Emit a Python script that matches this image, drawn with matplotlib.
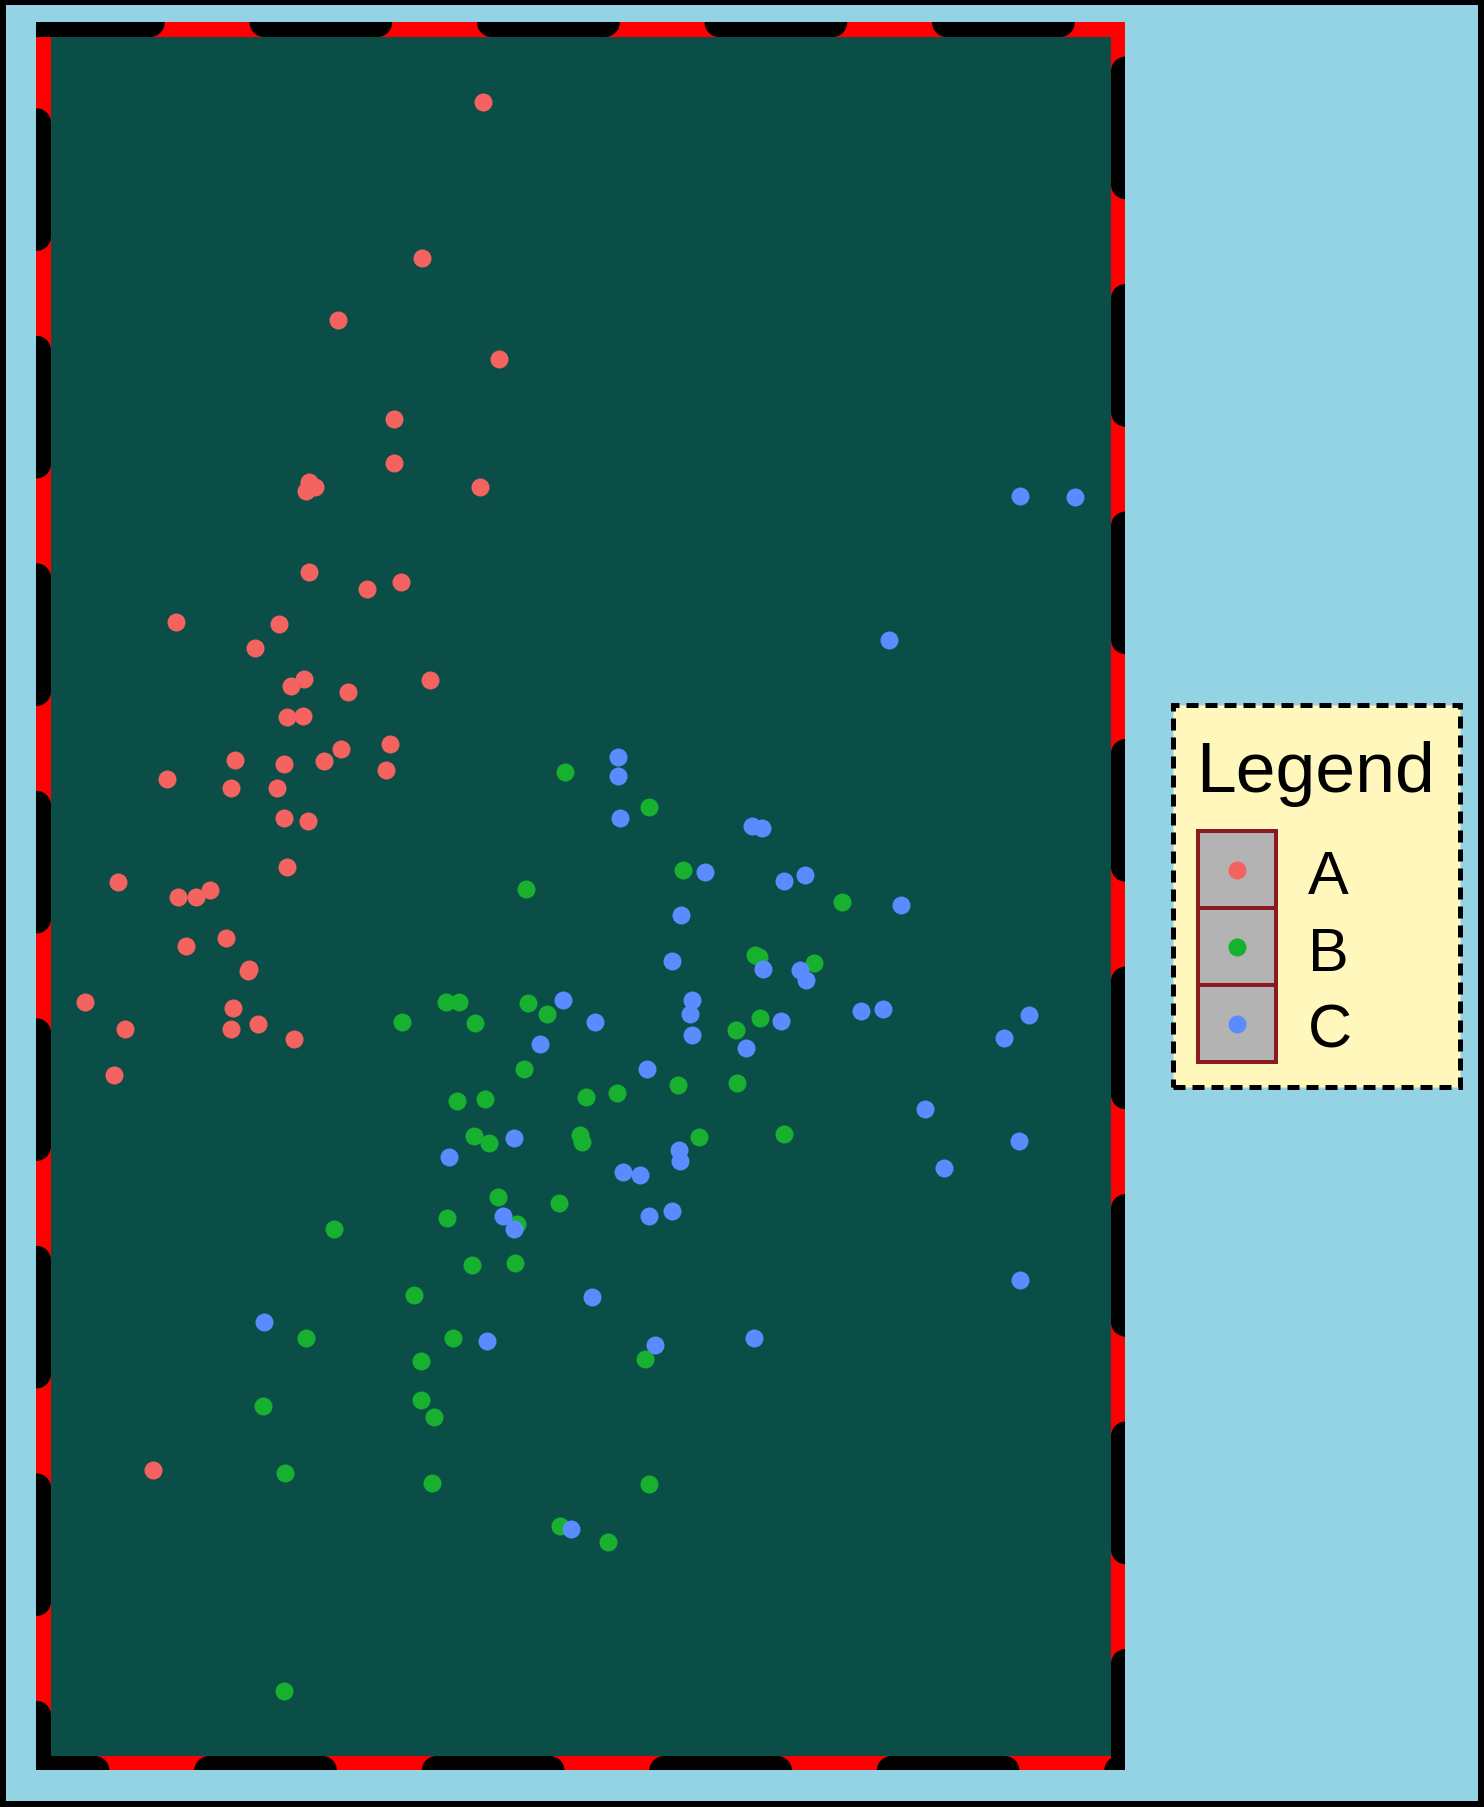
import matplotlib
matplotlib.use("Agg")
import matplotlib.pyplot as plt
from matplotlib.patches import Rectangle
from matplotlib.lines import Line2D

plt.rcParams['font.family'] = ['Liberation Sans', 'DejaVu Sans']
plt.rcParams['lines.scale_dashes'] = False

DPI = 100
px = 72.0 / DPI  # points per pixel

# point positions (x to the right, y downward)
a_x = [419, 366, 293, 433, 342, 342, 416, 268, 273, 265, 268, 318, 348, 153, 242,
       221, 264, 252, 302, 373, 249, 263, 338, 296, 204, 246, 281, 335, 145, 200,
       240, 246, 267, 249, 102, 154, 170, 182, 196, 161, 215, 216, 74, 202, 108,
       200, 224, 255, 99, 133]
a_y = [89, 225, 278, 312, 364, 402, 423, 419, 423, 427, 497, 512, 506, 540, 542,
       563, 590, 596, 601, 591, 623, 622, 646, 650, 660, 663, 661, 669, 676, 684,
       684, 710, 713, 753, 766, 779, 779, 773, 814, 821, 843, 841, 870, 875, 893,
       893, 889, 902, 933, 1276]

b_x = [490, 563, 592, 456, 730, 655, 658, 706, 387, 398, 458, 349, 412, 474, 659,
       638, 454, 588, 639, 508, 535, 396, 421, 411, 424, 503, 505, 606, 680, 432,
       485, 388, 448, 290, 409, 447, 359, 265, 393, 365, 559, 228, 365, 376, 247,
       375, 563, 486, 527, 246]
b_y = [670, 701, 755, 772, 783, 829, 831, 836, 870, 870, 871, 887, 888, 880, 884,
       894, 928, 942, 940, 952, 949, 956, 954, 986, 992, 985, 991, 987, 984, 1039,
       1044, 1057, 1062, 1067, 1098, 1096, 1124, 1161, 1161, 1181, 1179, 1220, 1215,
       1230, 1278, 1287, 1288, 1324, 1338, 1467]

c_x = [885, 932, 771, 536, 536, 538, 652, 661, 611, 698, 680, 781, 591, 583, 662,
       694, 699, 600, 488, 598, 516, 747, 766, 677, 892, 871, 600, 468, 647, 561,
       802, 884, 446, 389, 589, 590, 540, 555, 819, 583, 563, 436, 446, 885, 513,
       229, 422, 568, 654, 495]
c_y = [431, 432, 556, 657, 674, 710, 717, 719, 757, 760, 765, 786, 794, 834, 841,
       842, 851, 868, 868, 880, 887, 878, 876, 886, 881, 901, 898, 906, 910, 928,
       963, 990, 988, 1004, 998, 1008, 1017, 1020, 1014, 1051, 1055, 1055, 1067,
       1111, 1126, 1147, 1164, 1167, 1161, 1327]

groups = ['A', 'B', 'C']
colors = ['#F4635F', '#17B12F', '#5A8BFF']

fig = plt.figure(figsize=(14.84, 18.08), dpi=DPI)
fig.patch.set_facecolor('#93D3E3')
fig.patch.set_edgecolor('black')
fig.patch.set_linewidth(12 * px)

ax = fig.add_axes([36 / 1484, 36.7 / 1808, 1089.3 / 1484, 1748 / 1808])
ax.set_facecolor('#0B4D47')
for s in ax.spines.values():
    s.set_visible(False)
ax.set_xticks([])
ax.set_yticks([])

dot = 18 * px
for xs, ys, col in zip([a_x, b_x, c_x], [a_y, b_y, c_y], colors):
    ax.scatter(xs, ys, s=dot ** 2, color=col, linewidths=0, zorder=2)

ax.set_xlim(31.2, 975.9)
ax.set_ylim(1536.1, 20.2)

# panel border: solid red under a black dashed line, both clipped to the panel
bx = [0, 1, 1, 0, 0]
by = [1, 1, 0, 0, 1]
ax.plot(bx, by, transform=ax.transAxes, color='red', lw=29 * px,
        solid_joinstyle='miter', zorder=3)
ax.plot(bx, by, transform=ax.transAxes, color='black', lw=29 * px,
        linestyle=(0, (113.75 * px, 113.75 * px)), dash_capstyle='round',
        dash_joinstyle='miter', zorder=4)

# legend
H = 1808.0
W = 1484.0
box = Rectangle((1173 / W, 1 - 1088 / H), 287 / W, 382 / H, transform=fig.transFigure,
                facecolor='#FFF7BC', edgecolor='black', lw=5 * px,
                linestyle=(0, (12 * px, 7 * px)))
fig.add_artist(box)
fig.text(1196 / W, 1 - 791.7 / H, 'Legend', fontsize=71.5 * px, ha='left', va='baseline')

row_top = [832, 909, 986]
for i, (g, col) in enumerate(zip(groups, colors)):
    top = row_top[i]
    key = Rectangle((1198 / W, 1 - (top + 77) / H), 78 / W, 77 / H, transform=fig.transFigure,
                    facecolor='#B3B3B3', edgecolor='#8C1A22', lw=4 * px)
    fig.add_artist(key)
    fig.add_artist(Line2D([1237 / W], [1 - (top + 39) / H], transform=fig.transFigure,
                          marker='o', markersize=dot, color=col, markeredgewidth=0,
                          linestyle='none'))
    fig.text(1308 / W, 1 - (top + 62) / H, g, fontsize=61 * px, ha='left', va='baseline')

fig.savefig('out.png', dpi=DPI)
